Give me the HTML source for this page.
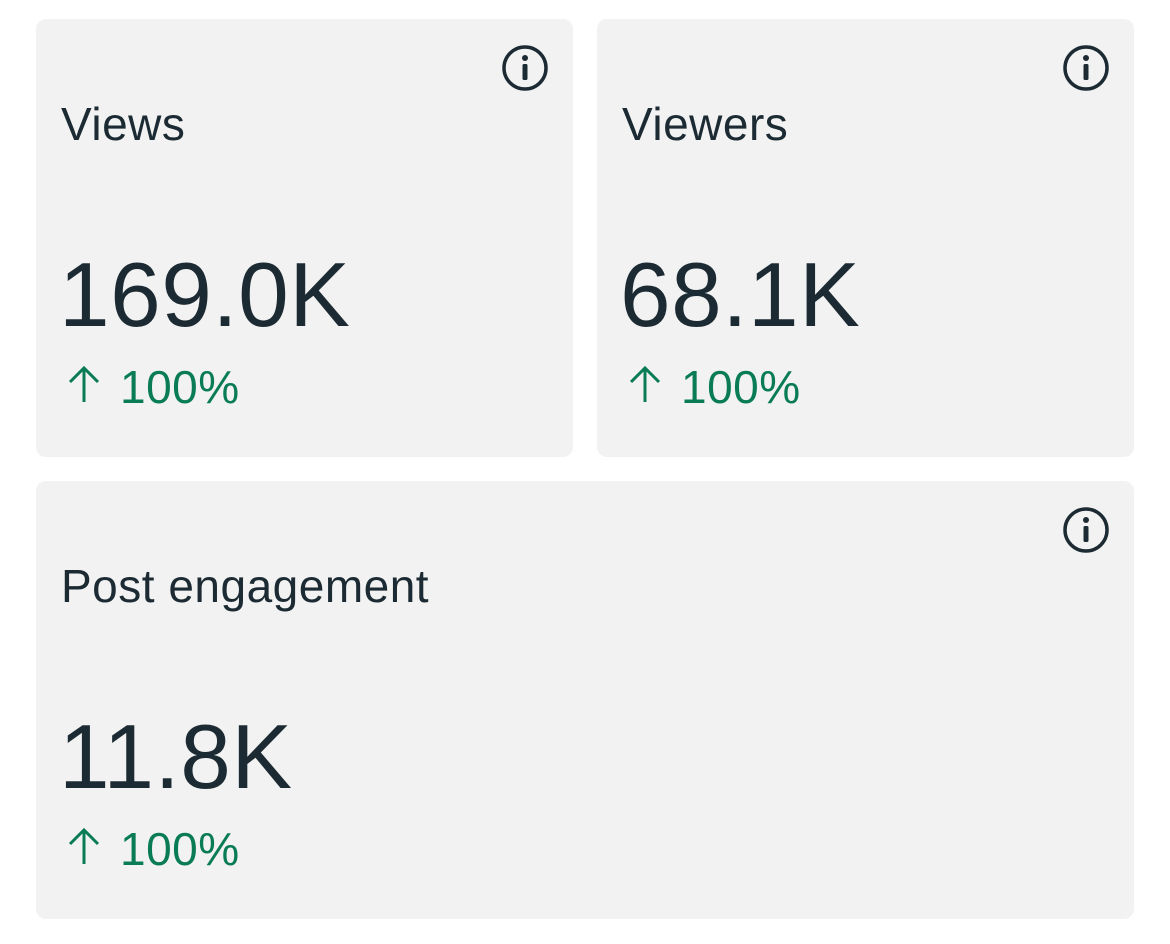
<!DOCTYPE html>
<html><head><meta charset="utf-8"><style>
body{margin:0;width:1170px;height:944px;background:#fff;position:relative;font-family:"Liberation Sans",sans-serif;color:#1c2b33;overflow:hidden}
.c{position:absolute;background:#f2f2f2;border-radius:10px}
.t{position:absolute;font-size:46px;line-height:1;letter-spacing:0.5px}
.n{position:absolute;font-size:91px;line-height:1;letter-spacing:0.5px}
.p{position:absolute;font-size:46px;line-height:1;color:#0a7c55;letter-spacing:0.5px}
svg{position:absolute}
</style></head><body>
<div class="c" style="left:36px;top:19px;width:537px;height:438px"></div>
<div class="c" style="left:597px;top:19px;width:537px;height:438px"></div>
<div class="c" style="left:36px;top:481px;width:1098px;height:438px"></div>

<svg width="1170" height="944" style="left:0;top:0">
<g fill="none" stroke="#1c2b33" stroke-width="3.5">
<circle cx="525" cy="68" r="21"/><circle cx="1086" cy="68" r="21"/><circle cx="1086" cy="530" r="21"/>
</g>
<g fill="#1c2b33">
<circle cx="525" cy="58" r="3"/><rect x="522.5" y="64" width="5" height="16" rx="1.5"/>
<circle cx="1086" cy="58" r="3"/><rect x="1083.5" y="64" width="5" height="16" rx="1.5"/>
<circle cx="1086" cy="520" r="3"/><rect x="1083.5" y="526" width="5" height="16" rx="1.5"/>
</g>
<g fill="none" stroke="#0a7c55" stroke-width="3">
<path d="M84 368V402M70 382L84 368L98 382"/>
<path d="M645 368V402M631 382L645 368L659 382"/>
<path d="M84 830V864M70 844L84 830L98 844"/>
</g>
</svg>

<div class="t" style="left:61px;top:101px">Views</div>
<div class="n" style="left:59px;top:250px">169.0K</div>
<div class="p" style="left:120px;top:364px">100%</div>

<div class="t" style="left:622px;top:101px">Viewers</div>
<div class="n" style="left:620px;top:250px">68.1K</div>
<div class="p" style="left:681px;top:364px">100%</div>

<div class="t" style="left:61px;top:563px">Post engagement</div>
<div class="n" style="left:59px;top:712px">11.8K</div>
<div class="p" style="left:120px;top:826px">100%</div>
</body></html>
